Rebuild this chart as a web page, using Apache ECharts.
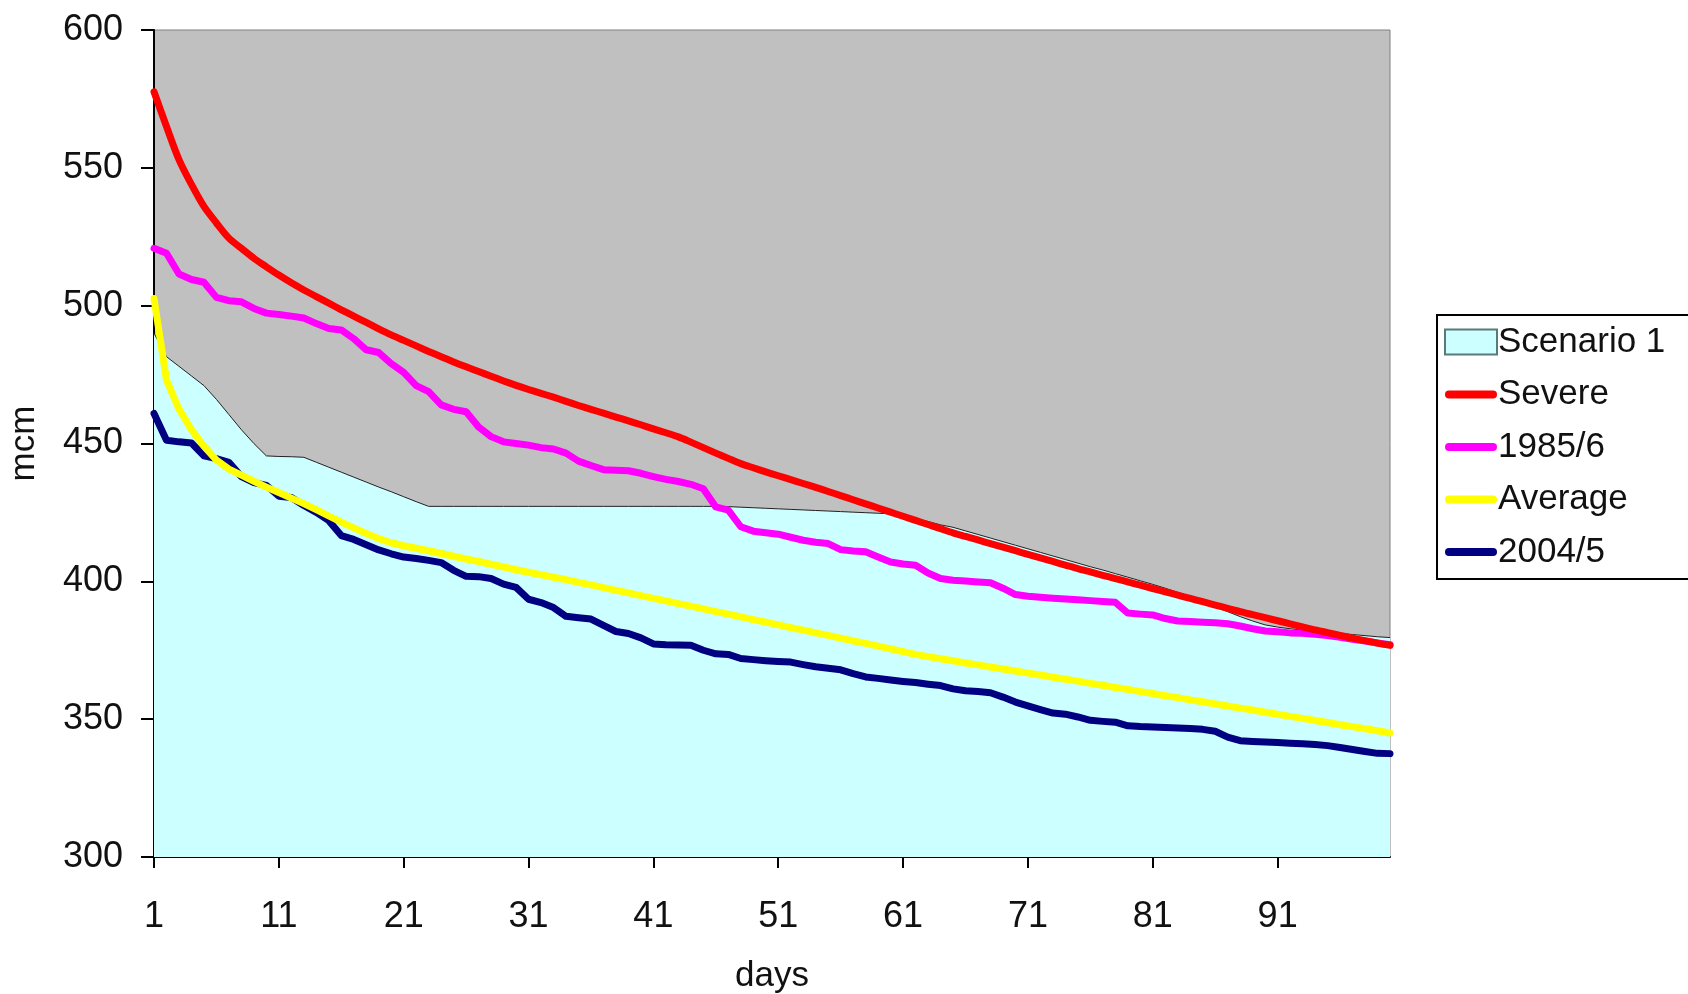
<!DOCTYPE html>
<html>
<head>
<meta charset="utf-8">
<script src="https://cdn.jsdelivr.net/npm/echarts@6/dist/echarts.min.js"></script>
<style>
html,body{margin:0;padding:0;background:#fff;}
#c{width:1688px;height:994px;}
</style>
</head>
<body>
<div id="c"></div>
<script>
const days = [1,2,3,4,5,6,7,8,9,10,11,12,13,14,15,16,17,18,19,20,21,22,23,24,25,26,27,28,29,30,31,32,33,34,35,36,37,38,39,40,41,42,43,44,45,46,47,48,49,50,51,52,53,54,55,56,57,58,59,60,61,62,63,64,65,66,67,68,69,70,71,72,73,74,75,76,77,78,79,80,81,82,83,84,85,86,87,88,89,90,91,92,93,94,95,96,97,98,99,100];
const xTickLabels = ['1','11','21','31','41','51','61','71','81','91'];
const yTicks = [300,350,400,450,500,550,600];

const scenario1 = [490,481.5,478,474.5,471,466,460.5,455,450,445.5,
  445.3,445.2,445,443.2,441.4,439.6,437.8,436,434.2,432.5,
  430.7,428.9,427.2,427.2,427.2,427.2,427.2,427.2,427.2,427.2,
  427.2,427.2,427.2,427.2,427.2,427.2,427.2,427.2,427.2,427.2,
  427.2,427.2,427.2,427.2,427.2,427.2,427.1,426.9,426.7,426.5,
  426.3,426.1,425.9,425.7,425.5,425.3,425.1,424.9,424.7,424.5,
  423.8,422.8,421.7,420.5,419.6,418.3,417,415.7,414.4,413.1,
  411.8,410.5,409.2,407.9,406.6,405.3,404.1,402.8,401.5,400.2,
  398.9,397.5,396,394.5,392.6,390.8,389,387.2,385.6,384.2,
  383.4,382.8,382.3,381.9,381.5,381.1,380.7,380.3,379.9,379.6];

const severe = [577.6,565,553,544,536,530,524.5,520.8,517.2,514.1,
  511.1,508.3,505.7,503.3,500.9,498.5,496.2,493.9,491.6,489.4,
  487.4,485.4,483.4,481.5,479.6,477.8,476.1,474.4,472.7,471.1,
  469.6,468.2,466.8,465.3,463.8,462.4,461.0,459.6,458.2,456.8,
  455.3,453.9,452.4,450.5,448.5,446.5,444.6,442.7,441.2,439.7,
  438.3,436.9,435.5,434.1,432.6,431.1,429.6,428.1,426.6,425.1,
  423.6,422.1,420.6,419.1,417.6,416.3,415.0,413.7,412.4,411.1,
  409.8,408.5,407.2,405.9,404.6,403.4,402.2,401.0,399.8,398.6,
  397.4,396.2,395.0,393.8,392.6,391.4,390.2,389.0,387.9,386.8,
  385.7,384.6,383.5,382.4,381.4,380.4,379.4,378.5,377.6,376.8];

const y1985 = [520.8,519,511.5,509.5,508.5,503,501.8,501.4,499,497.3,
  496.8,496.2,495.5,493.5,491.7,491.2,488,484,483,479,
  475.8,471,468.8,464,462.4,461.5,456,452.5,450.6,450,
  449.4,448.5,448,446.5,443.6,442,440.5,440.3,440.1,439.2,
  438,437,436.2,435.2,433.6,427,425.8,419.8,418.2,417.6,
  417.1,416,414.9,414.2,413.7,411.5,411,410.7,408.8,407,
  406.3,405.8,403,401,400.4,400.1,399.8,399.5,397.5,395.2,
  394.6,394.2,393.9,393.6,393.3,393,392.7,392.4,388.5,388.1,
  387.8,386.5,385.6,385.4,385.2,385,384.6,383.8,382.8,382,
  381.7,381.3,381.2,380.8,380.3,379.7,379,378.3,377.6,377];

const average = [502.6,473,462.5,455,449,444,440.7,438.5,436.3,434.2,
  432.2,430.2,428.2,426,423.7,421.5,419.4,417.4,415.5,414,
  412.9,412,411.1,410.1,409.1,408.1,407.2,406.2,405.2,404.2,
  403.3,402.4,401.5,400.6,399.6,398.7,397.7,396.7,395.8,394.8,
  393.8,392.9,391.9,391.0,390.0,389.0,388.1,387.1,386.1,385.2,
  384.2,383.2,382.3,381.3,380.4,379.4,378.4,377.5,376.5,375.5,
  374.5,373.5,372.7,371.9,371.2,370.4,369.7,368.9,368.2,367.5,
  366.7,366.0,365.2,364.5,363.8,363.0,362.3,361.5,360.8,360.0,
  359.3,358.5,357.8,357.0,356.3,355.5,354.8,354.0,353.3,352.5,
  351.8,351.0,350.3,349.5,348.8,348.0,347.3,346.5,345.8,345.0];

const y2004 = [460.9,451.2,450.6,450.2,445.5,444.5,443.2,438,435.8,434.8,
  430.9,430.4,427.5,425,422,416.6,415.2,413.3,411.4,410,
  408.8,408.3,407.6,406.8,404,401.8,401.7,401,399,397.8,
  393.5,392.3,390.5,387.3,386.8,386.3,384,381.8,381.1,379.5,
  377.3,377,376.9,376.8,375,373.7,373.5,372,371.6,371.2,
  370.9,370.7,369.8,369,368.5,367.9,366.5,365.3,364.8,364.2,
  363.7,363.3,362.7,362.2,361,360.3,360,359.6,358,356.2,
  354.8,353.5,352.2,351.8,350.8,349.6,349.2,348.9,347.6,347.3,
  347.2,347,346.8,346.6,346.3,345.6,343.5,342.2,341.9,341.7,
  341.5,341.3,341.1,340.8,340.4,339.7,339,338.3,337.6,337.5];

const FONT = '"Liberation Sans", Arial, sans-serif';
const chart = echarts.init(document.getElementById('c'), null, {renderer:'canvas'});
const showTick = (i, v) => xTickLabels.indexOf(String(v)) >= 0;
const LINE_ICON = 'path://M4,0 H48 A4,4 0 0 1 48,8 H4 A4,4 0 0 1 4,0 Z';

function lineSeries(name, data, color, z, smooth) {
  return {
    name, type:'line', data, symbol:'none', z, smooth: smooth || false,
    lineStyle:{color, width:7, cap:'round', join:'round'},
    itemStyle:{color},
    emphasis:{disabled:true}
  };
}

chart.setOption({
  animation:false,
  backgroundColor:'#ffffff',
  grid:{left:154, right:298, top:30, bottom:137, outerBoundsMode:'none', containLabel:false,
        show:true, backgroundColor:'#C0C0C0', borderColor:'#808080', borderWidth:1},
  legend:{
    orient:'vertical', left:1437, top:315,
    padding:[7,60,7,7], itemGap:12.5, itemWidth:52, itemHeight:25,
    backgroundColor:'#ffffff', borderColor:'#000000', borderWidth:2, borderRadius:0,
    symbolKeepAspect:true,
    textStyle:{fontFamily:FONT, fontSize:35, color:'#111', lineHeight:40, padding:[0,0,0,-4]},
    data:[
      {name:'Scenario 1', icon:'rect', itemStyle:{color:'#CCFFFF', borderColor:'#5a7a7a', borderWidth:2}},
      {name:'Severe', icon:LINE_ICON},
      {name:'1985/6', icon:LINE_ICON},
      {name:'Average', icon:LINE_ICON},
      {name:'2004/5', icon:LINE_ICON}
    ]
  },
  xAxis:{
    type:'category', data:days.map(String), boundaryGap:false,
    name:'days', nameLocation:'middle', nameGap:102,
    nameTextStyle:{fontFamily:FONT, fontSize:35, color:'#111'},
    axisLine:{show:true, onZero:false, lineStyle:{color:'#000', width:2}},
    axisTick:{show:true, interval:showTick, length:11, lineStyle:{color:'#000', width:2}},
    axisLabel:{interval:showTick, margin:42, fontFamily:FONT, fontSize:36, color:'#111'},
    splitLine:{show:false}
  },
  yAxis:{
    type:'value', min:yTicks[0], max:yTicks[yTicks.length-1], interval:50,
    name:'mcm', nameLocation:'middle', nameGap:112, nameRotate:90,
    nameTextStyle:{fontFamily:FONT, fontSize:35, color:'#111'},
    axisLine:{show:true, lineStyle:{color:'#000', width:2}},
    axisTick:{show:true, length:13, lineStyle:{color:'#000', width:2}},
    axisLabel:{margin:31, fontFamily:FONT, fontSize:36, color:'#111'},
    splitLine:{show:false}
  },
  series:[
    {
      name:'Scenario 1', type:'line', data:scenario1, symbol:'none', z:1,
      lineStyle:{color:'#222', width:1},
      itemStyle:{color:'#CCFFFF'},
      areaStyle:{color:'#CCFFFF', opacity:1, origin:'start'},
      emphasis:{disabled:true}
    },
    lineSeries('Severe', severe, '#FF0000', 3, 0.3),
    lineSeries('1985/6', y1985, '#FF00FF', 2),
    lineSeries('Average', average, '#FFFF00', 5),
    lineSeries('2004/5', y2004, '#000080', 4)
  ]
});
</script>
</body>
</html>
